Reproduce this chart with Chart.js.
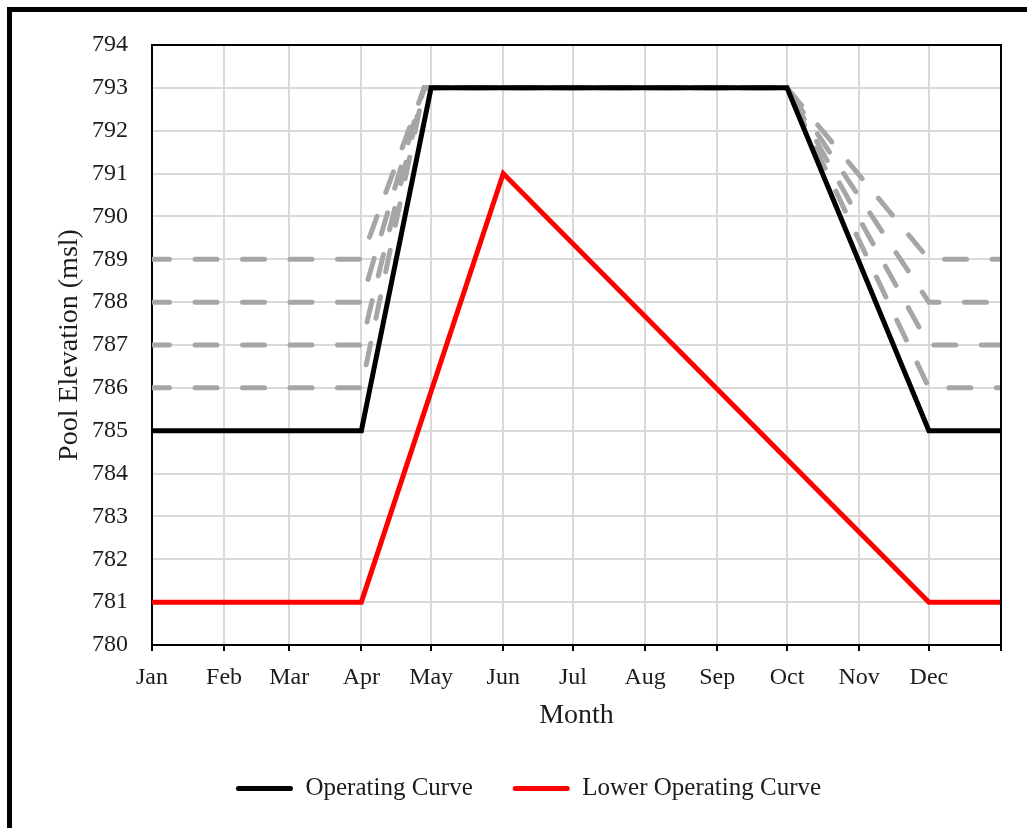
<!DOCTYPE html>
<html>
<head>
<meta charset="utf-8">
<script src="https://cdn.jsdelivr.net/npm/chart.js@4/dist/chart.umd.min.js"></script>
<style>
  html, body { margin: 0; padding: 0; background: #fff; overflow: hidden; }
  #wrap { position: relative; width: 1027px; height: 828px; }
  #frame { position: absolute; left: 7px; top: 7px; width: 1100px; height: 818px;
           border-left: 5px solid #000; border-top: 5px solid #000; border-bottom: 3px solid #d4d4d4;
           box-sizing: content-box; pointer-events: none; }
  canvas { position: absolute; left: 0; top: 0; }
</style>
</head>
<body>
<div id="wrap">
  <canvas id="c" width="1027" height="828"></canvas>
  <div id="frame"></div>
</div>
<script>
// ---- data ----
const monthLabels = ['Jan', 'Feb', 'Mar', 'Apr', 'May', 'Jun', 'Jul', 'Aug', 'Sep', 'Oct', 'Nov', 'Dec', ''];
const monthStartDays = [0, 31, 59, 90, 120, 151, 181, 212, 243, 273, 304, 334, 365];

const operatingDays = [0, 90, 120, 273, 334, 365];
const operatingElev = [785, 785, 793, 793, 785, 785];

const lowerDays = [0, 90, 151, 334, 365];
const lowerElev = [781, 781, 791, 781, 781];

// grey dashed alternative curves
const altDays = [0, 90, 117, 273, 334, 365];
const alt786 = [786, 786, 793, 793, 786, 786];
const alt787 = [787, 787, 793, 793, 787, 787];
const alt788 = [788, 788, 793, 793, 788, 788];
const alt789 = [789, 789, 793, 793, 789, 789];

const yMin = 780, yMax = 794;

// ---- helpers ----
const pts = (xs, ys) => xs.map((x, i) => ({ x: x, y: ys[i] }));
const FONT = 'Liberation Serif, "Times New Roman", serif';
const TXT = '#1c1c1c';

const altDataset = (vals) => ({
  label: 'alt',
  data: pts(altDays, vals),
  borderColor: '#a6a6a6',
  backgroundColor: '#a6a6a6',
  borderWidth: 5,
  borderDash: [22, 25.5],
  borderDashOffset: 4.5,
  borderCapStyle: 'round',
  pointRadius: 0,
  tension: 0,
  order: 5
});

const frameBox = {
  id: 'frameBox',
  afterDatasetsDraw(chart) {
    const { ctx, chartArea: a } = chart;
    ctx.save();
    ctx.strokeStyle = '#000';
    ctx.lineWidth = 2;
    ctx.beginPath();
    ctx.moveTo(a.left, a.top);
    ctx.lineTo(a.right, a.top);
    ctx.lineTo(a.right, a.bottom);
    ctx.stroke();
    ctx.restore();
  }
};

new Chart(document.getElementById('c'), {
  type: 'line',
  data: {
    datasets: [
      {
        label: 'Operating Curve',
        data: pts(operatingDays, operatingElev),
        borderColor: '#000000',
        backgroundColor: '#000000',
        borderWidth: 5,
        pointRadius: 0,
        tension: 0,
        order: 1
      },
      {
        label: 'Lower Operating Curve',
        data: pts(lowerDays, lowerElev),
        borderColor: '#ff0000',
        backgroundColor: '#ff0000',
        borderWidth: 5,
        pointRadius: 0,
        tension: 0,
        order: 2
      },
      altDataset(alt786),
      altDataset(alt787),
      altDataset(alt788),
      altDataset(alt789)
    ]
  },
  options: {
    responsive: false,
    animation: false,
    devicePixelRatio: 1,
    layout: { padding: { left: 30, right: 0, top: 45, bottom: 17 } },
    plugins: {
      tooltip: { enabled: false },
      legend: {
        position: 'bottom',
        labels: {
          font: { family: FONT, size: 25 },
          color: TXT,
          boxWidth: 57,
          boxHeight: 5,
          padding: 40,
          generateLabels(chart) {
            const items = Chart.defaults.plugins.legend.labels.generateLabels(chart);
            return items.filter(it => it.text !== 'alt').map(it => Object.assign(it, { lineWidth: 0, borderRadius: 2.5 }));
          }
        }
      }
    },
    scales: {
      x: {
        type: 'linear',
        min: 0,
        max: 365,
        afterBuildTicks(scale) {
          scale.ticks = monthStartDays.map(v => ({ value: v }));
        },
        afterFit(scale) { scale.height = 91; },
        ticks: {
          autoSkip: false,
          maxRotation: 0,
          padding: 12,
          font: { family: FONT, size: 24 },
          color: TXT,
          callback(value, index) { return monthLabels[index]; }
        },
        grid: { color: '#d9d9d9', lineWidth: 2, tickColor: '#000', tickLength: 6, tickWidth: 2 },
        border: { color: '#000', width: 2 },
        title: {
          display: true,
          text: 'Month',
          font: { family: FONT, size: 28 },
          color: TXT,
          padding: { top: 0, bottom: 4 }
        }
      },
      y: {
        min: yMin,
        max: yMax,
        afterFit(scale) { scale.width = 122; },
        ticks: {
          stepSize: 1,
          padding: 24,
          font: { family: FONT, size: 24 },
          color: TXT
        },
        grid: { color: '#d9d9d9', lineWidth: 2, drawTicks: false },
        border: { color: '#000', width: 2 },
        title: {
          display: true,
          text: 'Pool Elevation (msl)',
          font: { family: FONT, size: 28 },
          color: TXT,
          padding: { top: 23, bottom: 0 }
        }
      },
      yRight: {
        position: 'right',
        min: yMin,
        max: yMax,
        afterFit(scale) { scale.width = 26; },
        ticks: { display: false },
        grid: { display: false },
        border: { display: false }
      }
    }
  },
  plugins: [frameBox]
});
</script>
</body>
</html>
